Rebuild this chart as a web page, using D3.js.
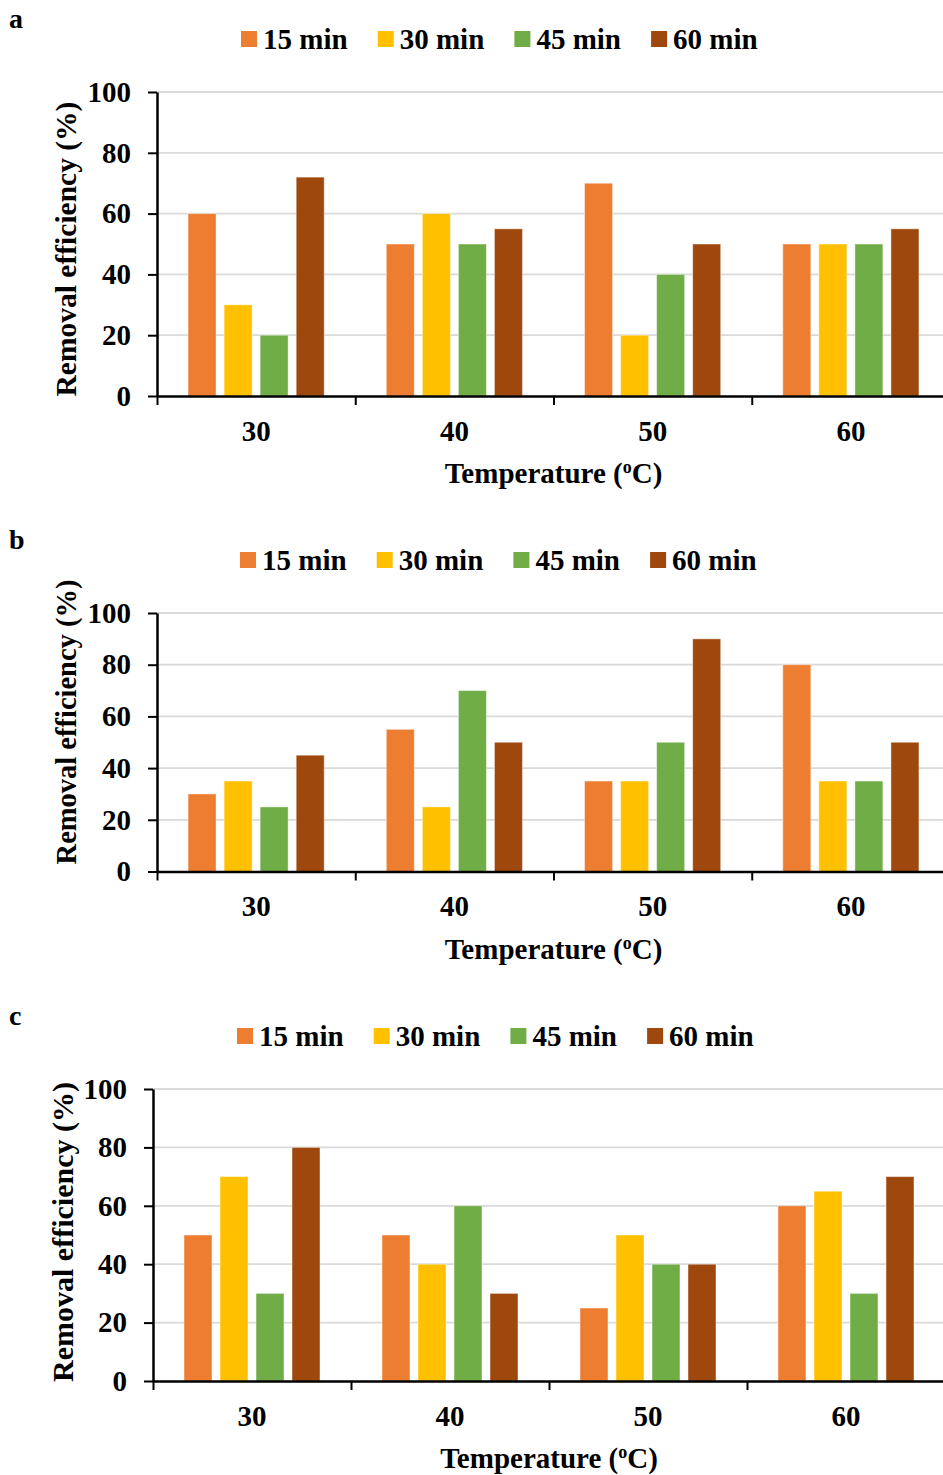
<!DOCTYPE html>
<html><head><meta charset="utf-8">
<script src="https://cdn.jsdelivr.net/npm/d3@7"></script>
<style>
html,body{margin:0;padding:0;background:#fff;}
svg text{font-family:"Liberation Serif","Times New Roman",serif;font-weight:bold;fill:#000;}
</style>
</head><body>
<svg id="chart" width="943" height="1475"></svg>
<script>
const categories = ["30", "40", "50", "60"];
const seriesNames = ["15 min", "30 min", "45 min", "60 min"];
const seriesColors = ["#ED7D31", "#FFC000", "#70AD47", "#9E480E"];
const yTicks = [0, 20, 40, 60, 80, 100];
const xTitle = "Temperature (";
const yTitle = "Removal efficiency (%)";
// values per series, per category (30, 40, 50, 60 °C)
const panelA = [
  [60, 50, 70, 50],
  [30, 60, 20, 50],
  [20, 50, 40, 50],
  [72, 55, 50, 55]
];
const panelB = [
  [30, 55, 35, 80],
  [35, 25, 35, 35],
  [25, 70, 50, 35],
  [45, 50, 90, 50]
];
const panelC = [
  [50, 50, 25, 60],
  [70, 40, 50, 65],
  [30, 60, 40, 30],
  [80, 30, 40, 70]
];

const panels = [
  {label: "a", data: panelA, labelY: 28, legendY: 39, legendX: 241, x0: 157, x1: 950, yTop: 92, yBot: 396, ytX: 66, ytY: 249, ytFS: 29.5},
  {label: "b", data: panelB, labelY: 549, legendY: 560, legendX: 240, x0: 157, x1: 950, yTop: 613, yBot: 871.5, ytX: 66, ytY: 722, ytFS: 28.5},
  {label: "c", data: panelC, labelY: 1025, legendY: 1036, legendX: 237, x0: 153, x1: 945, yTop: 1089, yBot: 1381, ytX: 62, ytY: 1232, ytFS: 30}
];

const svg = d3.select("#chart");
const FS = 29;

panels.forEach(p => {
  const g = svg.append("g");
  // panel letter
  g.append("text").attr("x", 9).attr("y", p.labelY).style("font-size", "28px").text(p.label);

  // legend
  const lg = g.append("g");
  seriesNames.forEach((s, i) => {
    const lx = p.legendX + i * 136.7;
    lg.append("rect").attr("x", lx).attr("y", p.legendY - 8).attr("width", 16).attr("height", 16).attr("fill", seriesColors[i]);
    lg.append("text").attr("x", lx + 22).attr("y", p.legendY).attr("dy", "0.35em").style("font-size", FS + "px").text(s);
  });

  const y = d3.scaleLinear().domain([0, 100]).range([p.yBot, p.yTop]);
  const x = d3.scaleBand().domain(categories).range([p.x0, p.x1]).paddingInner(0).paddingOuter(0);
  const xs = d3.scaleBand().domain(d3.range(seriesNames.length)).range([0, x.bandwidth()]).paddingInner(8 / 36).paddingOuter(31 / 36);

  // gridlines
  g.append("g").selectAll("line").data(yTicks.filter(d => d > 0)).join("line")
    .attr("x1", p.x0).attr("x2", 943).attr("y1", d => y(d)).attr("y2", d => y(d))
    .attr("stroke", "#d9d9d9").attr("stroke-width", 1.8);

  // bars
  seriesNames.forEach((s, si) => {
    g.append("g").selectAll("rect").data(p.data[si]).join("rect")
      .attr("x", (d, ci) => x(categories[ci]) + xs(si))
      .attr("width", xs.bandwidth())
      .attr("y", d => y(d))
      .attr("height", d => y(0) - y(d))
      .attr("fill", seriesColors[si])
      .attr("stroke", "rgba(255,255,255,0.45)").attr("stroke-width", 1);
  });

  // y axis
  const ya = g.append("g").attr("transform", `translate(${p.x0},0)`)
    .call(d3.axisLeft(y).tickValues(yTicks).tickSize(9).tickSizeOuter(0).tickPadding(17));
  ya.select(".domain").attr("stroke", "#000").attr("stroke-width", 2.5);
  ya.selectAll(".tick line").attr("stroke", "#000").attr("stroke-width", 2);
  ya.selectAll(".tick text").style("font-size", FS + "px").attr("font-family", null);

  // x axis boundary ticks
  const xb = d3.scaleLinear().domain([0, categories.length]).range([p.x0, p.x1]);
  const xa = g.append("g").attr("transform", `translate(0,${p.yBot})`)
    .call(d3.axisBottom(xb).tickValues(d3.range(categories.length + 1)).tickFormat("").tickSize(9).tickSizeOuter(0));
  xa.select(".domain").attr("stroke", "#000").attr("stroke-width", 2.5);
  xa.selectAll(".tick line").attr("stroke", "#000").attr("stroke-width", 2);

  // x labels
  const xl = g.append("g").attr("transform", `translate(0,${p.yBot})`)
    .call(d3.axisBottom(x).tickSize(0).tickPadding(24));
  xl.select(".domain").remove();
  xl.selectAll(".tick text").style("font-size", FS + "px").attr("font-family", null);

  // x title
  const xt = g.append("text").attr("x", (p.x0 + p.x1) / 2).attr("y", p.yBot + 87)
    .attr("text-anchor", "middle").style("font-size", FS + "px");
  xt.append("tspan").text(xTitle);
  xt.append("tspan").attr("baseline-shift", "super").style("font-size", "18px").text("o");
  xt.append("tspan").text("C)");

  // y title
  g.append("text")
    .attr("transform", `translate(${p.ytX},${p.ytY}) rotate(-90)`)
    .attr("text-anchor", "middle").attr("dy", "0.35em").style("font-size", p.ytFS + "px").text(yTitle);
});
</script>
</body></html>
